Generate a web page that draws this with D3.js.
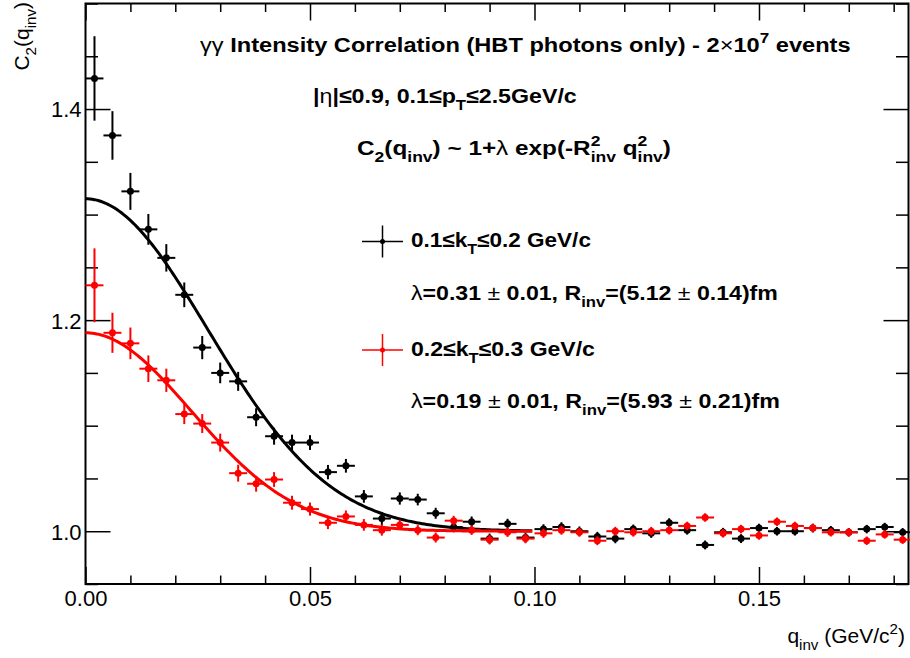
<!DOCTYPE html>
<html>
<head>
<meta charset="utf-8">
<script src="https://cdn.jsdelivr.net/npm/d3@7"></script>
<style>
  body { margin: 0; background: #fff; }
  svg { display: block; }
  text { font-family: "Liberation Sans", Arial, Helvetica, sans-serif; fill: #000; }
</style>
</head>
<body>
<script>
// Chart data
// bin centres in q_inv (GeV/c^2), bin width 0.004
var qBins = [0.002, 0.006, 0.010, 0.014, 0.018, 0.022, 0.026, 0.030, 0.034, 0.038,
             0.042, 0.046, 0.050, 0.054, 0.058, 0.062, 0.066, 0.070, 0.074, 0.078,
             0.082, 0.086, 0.090, 0.094, 0.098, 0.102, 0.106, 0.110, 0.114, 0.118,
             0.122, 0.126, 0.130, 0.134, 0.138, 0.142, 0.146, 0.150, 0.154, 0.158,
             0.162, 0.166, 0.170, 0.174, 0.178, 0.182];
var binHalfWidth = 0.002;

// 0.1 <= kT <= 0.2 GeV/c (black)
var c2Low = [1.429, 1.375, 1.322, 1.286, 1.259, 1.224, 1.174, 1.150, 1.142, 1.108,
             1.090, 1.084, 1.084, 1.056, 1.062, 1.033, 1.012, 1.031, 1.030, 1.017,
             1.004, 1.009, 0.993, 1.007, 0.994, 1.002, 1.004, 1.000, 0.995, 0.993,
             1.002, 0.998, 1.008, 1.001, 0.987, 0.999, 0.993, 1.003, 1.000, 1.000,
             1.003, 1.001, 0.999, 1.002, 1.004, 0.999];
var errLow = [0.040, 0.023, 0.0175, 0.0146, 0.013, 0.0117, 0.011, 0.0098, 0.009, 0.0085,
              0.008, 0.0075, 0.007, 0.0068, 0.0065, 0.006, 0.006, 0.0058, 0.0055, 0.0052,
              0.005, 0.005, 0.0048, 0.0048, 0.0046, 0.0046, 0.0045, 0.0045, 0.0044, 0.0044,
              0.0043, 0.0043, 0.0043, 0.0042, 0.0042, 0.0042, 0.0042, 0.0041, 0.0041, 0.0041,
              0.0041, 0.004, 0.004, 0.004, 0.004, 0.004];

// 0.2 <= kT <= 0.3 GeV/c (red)
var c2High = [1.233, 1.188, 1.178, 1.154, 1.143, 1.111, 1.102, 1.084, 1.055, 1.045,
              1.049, 1.027, 1.021, 1.008, 1.014, 1.006, 1.001, 1.006, 1.001, 0.994,
              1.010, 1.001, 0.992, 0.999, 0.993, 0.998, 1.001, 0.999, 0.991, 1.000,
              0.999, 1.000, 1.001, 1.005, 1.013, 0.998, 1.002, 0.996, 1.009, 1.005,
              1.003, 0.999, 0.999, 0.991, 0.997, 0.992];
var errHigh = [0.035, 0.019, 0.015, 0.0126, 0.011, 0.0095, 0.009, 0.0085, 0.008, 0.0075,
               0.007, 0.0066, 0.0062, 0.006, 0.0057, 0.0055, 0.0052, 0.005, 0.0048, 0.0047,
               0.0046, 0.0045, 0.0045, 0.0044, 0.0044, 0.0043, 0.0043, 0.0042, 0.0042, 0.0042,
               0.0041, 0.0041, 0.0041, 0.004, 0.004, 0.004, 0.004, 0.004, 0.004, 0.004,
               0.004, 0.004, 0.004, 0.004, 0.004, 0.004];

// fit parameters of 1 + lambda*exp(-R^2 q^2), R in fm
var fitLambda = [0.315, 0.188];
var fitRadius = [5.12, 5.93];
var fitRange = [0, 0.0995];
var hbarc = 0.1973;

var seriesColors = ["#000000", "#ff0000"];

var xMajorTicks = [0, 0.05, 0.10, 0.15];
var yMajorTicks = [1.0, 1.2, 1.4];

// Chart Params
var svgWidth = 910;
var svgHeight = 658;
var margin = { top: 3.5, right: 1.5, bottom: 74, left: 85.5 };
var width = svgWidth - margin.left - margin.right;
var height = svgHeight - margin.top - margin.bottom;

var svg = d3.select("body")
  .append("svg")
  .attr("width", svgWidth)
  .attr("height", svgHeight);

var chartGroup = svg.append("g")
  .attr("transform", `translate(${margin.left}, ${margin.top})`);

var xScale = d3.scaleLinear().domain([0, 0.1833]).range([0, width]);
var yScale = d3.scaleLinear().domain([0.95, 1.5]).range([height, 0]);

// minor ticks
var xMinor = d3.range(0.01, 0.1833, 0.01).filter(v => Math.abs(v / 0.05 - Math.round(v / 0.05)) > 1e-6);
var yMinor = d3.range(0.95, 1.5001, 0.05).filter(v => Math.abs(v / 0.2 - Math.round(v / 0.2)) > 1e-6);

function styleAxis(g) {
  g.select(".domain").remove();
  g.selectAll(".tick line").attr("stroke", "#000").attr("stroke-width", 1.5);
}

// bottom axis
chartGroup.append("g")
  .attr("transform", `translate(0, ${height})`)
  .call(d3.axisBottom(xScale).tickValues(xMajorTicks).tickSize(-17).tickPadding(6)
    .tickFormat(d3.format(".2f")))
  .call(styleAxis)
  .selectAll("text").style("font-size", "22px").style("font-family", null);
chartGroup.append("g")
  .attr("transform", `translate(0, ${height})`)
  .call(d3.axisBottom(xScale).tickValues(xMinor).tickSize(-8.5).tickFormat(""))
  .call(styleAxis);
// top axis
chartGroup.append("g")
  .call(d3.axisTop(xScale).tickValues(xMajorTicks).tickSize(-17).tickFormat(""))
  .call(styleAxis);
chartGroup.append("g")
  .call(d3.axisTop(xScale).tickValues(xMinor).tickSize(-8.5).tickFormat(""))
  .call(styleAxis);
// left axis
chartGroup.append("g")
  .call(d3.axisLeft(yScale).tickValues(yMajorTicks).tickSize(-25).tickPadding(4)
    .tickFormat(d3.format(".1f")))
  .call(styleAxis)
  .selectAll("text").style("font-size", "22px").style("font-family", null).attr("dy", "0.36em");
chartGroup.append("g")
  .call(d3.axisLeft(yScale).tickValues(yMinor).tickSize(-12.5).tickFormat(""))
  .call(styleAxis);
// right axis
chartGroup.append("g")
  .attr("transform", `translate(${width}, 0)`)
  .call(d3.axisRight(yScale).tickValues(yMajorTicks).tickSize(-25).tickFormat(""))
  .call(styleAxis);
chartGroup.append("g")
  .attr("transform", `translate(${width}, 0)`)
  .call(d3.axisRight(yScale).tickValues(yMinor).tickSize(-12.5).tickFormat(""))
  .call(styleAxis);

// frame
chartGroup.append("rect")
  .attr("width", width)
  .attr("height", height)
  .attr("fill", "none")
  .attr("stroke", "#000")
  .attr("stroke-width", 2);

// histogram points with error bars, then the fit
function drawSeries(values, errors, color, lambda, radius) {
  var data = qBins.map((q, i) => ({ q: q, v: values[i], e: errors[i] }));
  var pts = chartGroup.append("g").attr("stroke", color).attr("stroke-width", 2);
  pts.selectAll(".xerr").data(data).enter().append("line")
    .attr("x1", d => xScale(d.q - binHalfWidth))
    .attr("x2", d => xScale(d.q + binHalfWidth))
    .attr("y1", d => yScale(d.v))
    .attr("y2", d => yScale(d.v));
  pts.selectAll(".yerr").data(data).enter().append("line")
    .attr("x1", d => xScale(d.q))
    .attr("x2", d => xScale(d.q))
    .attr("y1", d => yScale(d.v - d.e))
    .attr("y2", d => yScale(d.v + d.e));
  chartGroup.append("g").selectAll("circle").data(data).enter().append("circle")
    .attr("cx", d => xScale(d.q))
    .attr("cy", d => yScale(d.v))
    .attr("r", 3.5)
    .attr("fill", color);

  var R = radius / hbarc;
  var fitPts = d3.range(fitRange[0], fitRange[1] + 1e-9, 0.0005)
    .map(q => [q, 1 + lambda * Math.exp(-R * R * q * q)]);
  chartGroup.append("path")
    .datum(fitPts)
    .attr("fill", "none")
    .attr("stroke", color)
    .attr("stroke-width", 3)
    .attr("d", d3.line().x(d => xScale(d[0])).y(d => yScale(d[1])));
}

drawSeries(c2Low, errLow, seriesColors[0], fitLambda[0], fitRadius[0]);
drawSeries(c2High, errHigh, seriesColors[1], fitLambda[1], fitRadius[1]);

// latex-like text: parts are [string, kind]; kind: "", "sym", "sub", "sup", "sub2" (sub under previous sup)
function richText(parent, x, y, parts, size, weight, anchor) {
  var t = parent.append("text")
    .attr("x", x).attr("y", y)
    .attr("text-anchor", anchor || "start")
    .style("font-size", size + "px")
    .style("font-weight", weight);
  var cur = 0;
  var prev = null;
  parts.forEach(p => {
    var str = p[0], kind = p[1];
    var target = 0, fs = size;
    if (kind === "sub" || kind === "sub2") { target = 0.32 * size; fs = 0.72 * size; }
    if (kind === "sup") { target = -0.45 * size; fs = 0.72 * size; }
    var sp = t.append("tspan")
      .attr("dy", (target - cur).toFixed(2))
      .style("font-size", fs + "px")
      .text(str);
    if (kind === "sub2" && prev) {
      sp.attr("dx", -prev.node().getComputedTextLength());
    }
    if (kind === "sym") sp.style("font-weight", "normal");
    cur = target;
    prev = sp;
  });
  return t;
}

function fitWidth(t, x0, x1) {
  var bb = t.node().getBBox();
  var k = (x1 - x0) / bb.width;
  t.attr("transform", `translate(${x0},0) scale(${k},1) translate(${-bb.x},0)`);
}

var titleParts = [["γγ", "sym"], [" Intensity Correlation (HBT photons only) - 2", ""], ["×", "sym"],
                  ["10", ""], ["7", "sup"], [" events", ""]];
var cutParts = [["|", ""], ["η", "sym"], ["|≤0.9, 0.1≤p", ""], ["T", "sub"], ["≤2.5GeV/c", ""]];
var formulaParts = [["C", ""], ["2", "sub"], ["(q", ""], ["inv", "sub"], [") ~ 1+", ""], ["λ", "sym"],
                    [" exp(-R", ""], ["2", "sup"], ["inv", "sub2"], [" q", ""], ["2", "sup"], ["inv", "sub2"], [")", ""]];
var legendLabels = [
  [["0.1≤k", ""], ["T", "sub"], ["≤0.2 GeV/c", ""]],
  [["0.2≤k", ""], ["T", "sub"], ["≤0.3 GeV/c", ""]]
];
var fitLabels = [
  [["λ", "sym"], ["=0.31", ""], [" ± ", "sym"], ["0.01, R", ""], ["inv", "sub"], ["=(5.12", ""], [" ± ", "sym"], ["0.14)fm", ""]],
  [["λ", "sym"], ["=0.19", ""], [" ± ", "sym"], ["0.01, R", ""], ["inv", "sub"], ["=(5.93", ""], [" ± ", "sym"], ["0.21)fm", ""]]
];

fitWidth(richText(svg, 0, 52, titleParts, 20.5, "bold"), 200, 851);
fitWidth(richText(svg, 0, 103, cutParts, 20.5, "bold"), 313, 577);
fitWidth(richText(svg, 0, 155, formulaParts, 20.5, "bold"), 357, 671);

// legend
var legendY = [241.5, 350];
var legendTextEnd = [591, 595];
var fitTextEnd = [778, 780];
var fitTextY = [300, 408];
seriesColors.forEach((c, i) => {
  var lg = svg.append("g").attr("stroke", c).attr("stroke-width", 1.5);
  lg.append("line").attr("x1", 362).attr("x2", 403).attr("y1", legendY[i]).attr("y2", legendY[i]);
  lg.append("line").attr("x1", 382.5).attr("x2", 382.5).attr("y1", legendY[i] - 16).attr("y2", legendY[i] + 16);
  svg.append("circle").attr("cx", 382.5).attr("cy", legendY[i]).attr("r", 2.5).attr("fill", c);
  fitWidth(richText(svg, 0, legendY[i] + 6, legendLabels[i], 20.5, "bold"), 411, legendTextEnd[i]);
  fitWidth(richText(svg, 0, fitTextY[i], fitLabels[i], 20.5, "bold"), 411, fitTextEnd[i]);
});

// axis titles
richText(svg, 905, 643, [["q", ""], ["inv", "sub"], [" (GeV/c", ""], ["2", "sup"], [")", ""]], 21, "normal", "end");
richText(svg, 0, 0, [["C", ""], ["2", "sub"], ["(q", ""], ["inv", "sub"], [")", ""]], 21, "normal", "end")
  .attr("transform", "translate(29, 2) rotate(-90)");
</script>
</body>
</html>
